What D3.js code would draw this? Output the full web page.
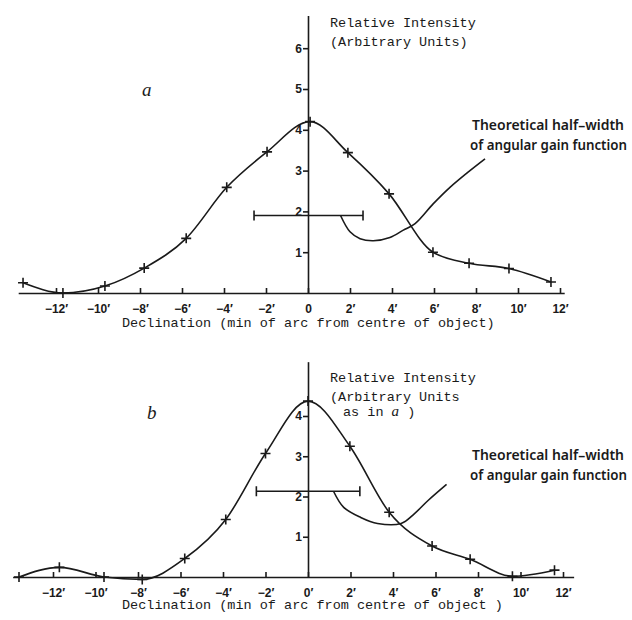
<!DOCTYPE html>
<html>
<head>
<meta charset="utf-8">
<script src="https://cdn.jsdelivr.net/npm/d3@7"></script>
<style>
  body { margin: 0; background: #fff; }
  .axis path, .axis line { stroke: #1a1a1a; stroke-width: 1.6; }
  .axis text { font-family: "Liberation Sans", Arial, sans-serif; font-weight: bold; font-size: 12px; fill: #1a1a1a; }
  .curve { fill: none; stroke: #1a1a1a; stroke-width: 1.6; }
  .mark { stroke: #1a1a1a; stroke-width: 1.6; }
  .mono { font-family: "Liberation Mono", "DejaVu Sans Mono", monospace; font-size: 13.5px; fill: #1a1a1a; }
  .note { font-family: "Noto Sans", "Lato", sans-serif; font-weight: 600; font-size: 13.5px; fill: #1a1a1a; }
  .panel { font-family: "Liberation Serif", serif; font-style: italic; font-size: 19px; fill: #1a1a1a; }
</style>
</head>
<body>
<div class="gv-chart"></div>
<script>
// panel a : measured points (min of arc, relative intensity)
var declA = [-13.57, -11.67, -9.67, -7.8, -5.8, -3.87, -1.95, 0.1, 1.9, 3.86, 5.95, 7.67, 9.57, 11.57];
var intA  = [0.25, 0.0, 0.17, 0.61, 1.34, 2.59, 3.46, 4.2, 3.44, 2.43, 1.0, 0.73, 0.6, 0.27];

// panel b
var declB = [-13.6, -11.7, -9.6, -7.8, -5.8, -3.87, -2.0, 0.0, 1.97, 3.82, 5.84, 7.63, 9.62, 11.6];
var intB  = [0.0, 0.24, 0.0, -0.06, 0.46, 1.43, 3.07, 4.37, 3.25, 1.61, 0.77, 0.44, 0.02, 0.17];

// theoretical half-width bars [left, right, level]
var halfA = [-2.57, 2.62, 1.9];
var halfB = [-2.43, 2.44, 2.13];

// angular gain function sketches
var gainAx = [1.55, 2.0, 2.48, 3.11, 3.9, 4.54, 5.1, 5.97, 6.76, 7.71, 8.43];
var gainAy = [1.9, 1.5, 1.33, 1.28, 1.36, 1.54, 1.7, 2.19, 2.59, 3.0, 3.29];
var gainBx = [1.2, 1.68, 2.48, 3.27, 4.38, 5.0, 5.65, 6.52];
var gainBy = [2.13, 1.73, 1.48, 1.33, 1.33, 1.57, 1.9, 2.3];

var xTicks = [-12, -10, -8, -6, -4, -2, 0, 2, 4, 6, 8, 10, 12];
var yTicksA = [1, 2, 3, 4, 5, 6];
var yTicksB = [1, 2, 3, 4];

var svg = d3.select(".gv-chart").append("svg").attr("width", 632).attr("height", 620);

function zip(xs, ys) {
  return xs.map(function(v, i) { return [v, ys[i]]; });
}

function drawPanel(o) {
  var x = d3.scaleLinear().domain(o.xDomain).range(o.xRange);
  var y = d3.scaleLinear().domain(o.yDomain).range(o.yRange);
  var g = svg.append("g");

  g.append("g")
    .attr("class", "axis")
    .attr("transform", "translate(0," + y(0) + ")")
    .call(d3.axisBottom(x).tickValues(xTicks).tickSizeInner(-5).tickSizeOuter(0).tickPadding(11)
      .tickFormat(function(d) {
        if (d == 0) return o.zeroLabel;
        return (d < 0 ? "\u2212" : "") + Math.abs(d) + "\u2032";
      }));

  g.append("g")
    .attr("class", "axis")
    .attr("transform", "translate(" + x(0) + ",0)")
    .call(d3.axisLeft(y).tickValues(o.yTicks).tickSizeInner(5).tickSizeOuter(0).tickPadding(1)
      .tickFormat(d3.format("d")));

  var line = d3.line()
    .x(function(d) { return x(d[0]); })
    .y(function(d) { return y(d[1]); })
    .curve(d3.curveMonotoneX);

  g.append("path").attr("class", "curve").attr("d", line(o.pts));
  g.append("path").attr("class", "curve").attr("d", line.curve(d3.curveCatmullRom)(o.gain));

  // crosses
  var s = 5;
  g.selectAll(".cross")
    .data(o.pts)
    .enter().append("path")
    .attr("class", "mark")
    .attr("d", function(d) {
      var cx = x(d[0]), cy = y(d[1]);
      return "M" + (cx - s) + "," + cy + "H" + (cx + s) + "M" + cx + "," + (cy - s) + "V" + (cy + s);
    });

  // half-width bar
  var hb = o.half;
  g.append("path")
    .attr("class", "mark")
    .attr("fill", "none")
    .attr("d", "M" + x(hb[0]) + "," + (y(hb[2]) - 5) + "V" + (y(hb[2]) + 5) +
      "M" + x(hb[0]) + "," + y(hb[2]) + "H" + x(hb[1]) +
      "M" + x(hb[1]) + "," + (y(hb[2]) - 5) + "V" + (y(hb[2]) + 5));

  g.append("text").attr("class", "panel").attr("x", o.letter[0]).attr("y", o.letter[1]).text(o.letter[2]);

  g.append("text").attr("class", "mono").attr("x", 122).attr("y", o.xTitleY).text(o.xTitle);

  var rl = g.append("text").attr("class", "mono");
  o.yTitle.forEach(function(t, i) {
    rl.append("tspan").attr("x", 330).attr("y", o.yTitleY + i * 18.5).text(t);
  });
  if (o.asIn) {
    rl.append("tspan").attr("x", 343).attr("y", o.yTitleY + 2 * 17).text("as in ");
    rl.append("tspan").attr("font-family", "Liberation Serif, serif").attr("font-style", "italic").attr("font-size", "15px").text("a");
    rl.append("tspan").text(" )");
  }

  g.append("text").attr("class", "note").attr("x", 472).attr("y", o.noteY)
    .attr("textLength", 152).attr("lengthAdjust", "spacingAndGlyphs").text("Theoretical half\u2013width");
  g.append("text").attr("class", "note").attr("x", 470).attr("y", o.noteY + 20)
    .attr("textLength", 157).attr("lengthAdjust", "spacingAndGlyphs").text("of angular gain function");
}

drawPanel({
  xDomain: [-13.8, 12.2], xRange: [308 - 21 * 13.8, 308 + 21 * 12.2],
  yDomain: [0, 6.8], yRange: [293, 293 - 40.8 * 6.8],
  yTicks: yTicksA, zeroLabel: "0",
  pts: zip(declA, intA), gain: zip(gainAx, gainAy), half: halfA,
  letter: [142, 96, "a"],
  xTitle: "Declination (min of arc from centre of object)", xTitleY: 327,
  yTitle: ["Relative Intensity", "(Arbitrary Units)"], yTitleY: 27,
  noteY: 130
});

drawPanel({
  xDomain: [-13.9, 12.5], xRange: [308 - 21.25 * 13.9, 308 + 21.25 * 12.5],
  yDomain: [0, 5.35], yRange: [577, 577 - 40.25 * 5.35],
  yTicks: yTicksB, zeroLabel: "0\u2032",
  pts: zip(declB, intB), gain: zip(gainBx, gainBy), half: halfB,
  letter: [147, 419, "b"],
  xTitle: "Declination (min of arc from centre of object )", xTitleY: 609,
  yTitle: ["Relative Intensity", "(Arbitrary Units"], yTitleY: 382,
  asIn: true,
  noteY: 460
});
</script>
</body>
</html>
